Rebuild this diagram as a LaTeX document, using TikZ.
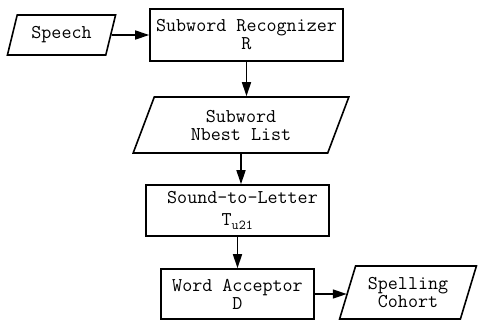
\documentclass[tikz,border=0pt]{standalone}
\usetikzlibrary{shapes.geometric,arrows.meta}
\begin{document}
\begin{tikzpicture}[x=1pt,y=-1pt,
	every node/.style={font=\ttfamily\fontsize{19.5}{18}\selectfont,align=center,line width=1.6pt,inner sep=0pt},
	box/.style={draw,rectangle},
	io/.style={draw,trapezium,trapezium left angle=68,trapezium right angle=112,trapezium stretches=true},
	flow/.style={line width=1.6pt,-{Triangle[length=14pt,width=9pt]}}]
\useasboundingbox (0,0) rectangle (479,322);
\node[io,minimum width=109pt,minimum height=40pt] (speech) at (61.5,35) {Speech};
\node[box,minimum width=193pt,minimum height=52pt] (rec) at (246.5,35) {Subword Recognizer\\R};
\node[io,minimum width=216pt,minimum height=56pt] (nbest) at (241,125) {Subword\\Nbest List};
\node[box,minimum width=183pt,minimum height=51pt] (stl) at (237.5,210.5) {\hspace{10pt}Sound-to-Letter\\[4pt]T\textsubscript{u21}};
\node[box,minimum width=153pt,minimum height=50pt] (acc) at (237.5,294) {Word Acceptor\\D};
\node[io,minimum width=137pt,minimum height=53pt] (cohort) at (408,292.5) {Spelling\\Cohort};
\draw[flow] (speech.east) -- (rec.west);
\draw[flow] (rec.south) -- (rec.south |- nbest.north);
\draw[flow] (nbest.south) -- (nbest.south |- stl.north);
\draw[flow] (stl.south) -- (acc.north);
\draw[flow] (acc.east) -- (acc.east -| cohort.west);
\end{tikzpicture}
\end{document}
